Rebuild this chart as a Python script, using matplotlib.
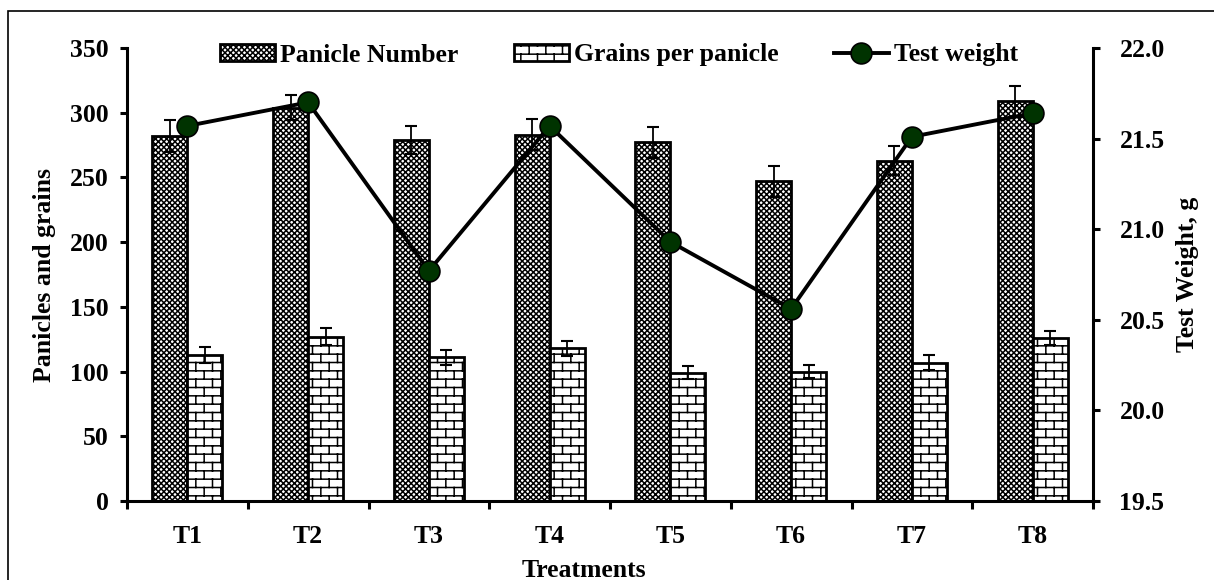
import numpy as np
import matplotlib
matplotlib.use("Agg")
import matplotlib.pyplot as plt
import matplotlib.hatch as mhatch
from matplotlib.path import Path
from matplotlib.patches import Rectangle
from matplotlib.ticker import FormatStrFormatter

# ---------------- data ----------------
treatments = ["T1", "T2", "T3", "T4", "T5", "T6", "T7", "T8"]
panicle_number = [282, 304, 279, 283, 277, 247, 263, 309]
panicle_err = [12, 10, 11, 12, 12, 12, 11, 12]
grains_per_panicle = [113, 127, 111, 118, 99, 100, 107, 126]
grains_err = [6, 6.5, 6, 6, 5, 5, 6, 5.5]
test_weight = [21.57, 21.70, 20.77, 21.57, 20.93, 20.56, 21.51, 21.64]

left_ticks = [0, 50, 100, 150, 200, 250, 300, 350]
right_ticks = [19.5, 20.0, 20.5, 21.0, 21.5, 22.0]

# ---------------- brick hatch ----------------
BRICK = "|-|-"
_orig_get_path = mhatch.get_path


def _brick_path(rows=12, cols=6):
    verts, codes = [], []
    for i in range(rows):
        y0 = (i + 0.5) / rows
        y1 = (i + 1.5) / rows
        verts += [(0.0, y0), (1.0, y0)]
        codes += [Path.MOVETO, Path.LINETO]
        off = 0.5 if i % 2 else 0.0
        for j in range(cols):
            xv = (j + 0.25 + off) / cols
            verts += [(xv, y0), (xv, min(y1, 1.0))]
            codes += [Path.MOVETO, Path.LINETO]
        if y1 > 1.0:
            for j in range(cols):
                xv = (j + 0.25 + off) / cols
                verts += [(xv, 0.0), (xv, y1 - 1.0)]
                codes += [Path.MOVETO, Path.LINETO]
    return Path(np.array(verts), codes)


def _get_path(hatchpattern, density=6):
    if hatchpattern == BRICK:
        return _brick_path()
    return _orig_get_path(hatchpattern, density)


mhatch.get_path = _get_path

# ---------------- style ----------------
plt.rcParams["font.family"] = ["Liberation Serif", "DejaVu Serif"]
plt.rcParams["font.weight"] = "bold"
plt.rcParams["hatch.linewidth"] = 1.1
FS = 18.5

fig = plt.figure(figsize=(12.14, 5.80), dpi=100)
ax = fig.add_axes([127 / 1214, 1 - 501 / 580, (1093 - 127) / 1214, (501 - 48) / 580])
ax2 = ax.twinx()

x = np.arange(len(treatments))
w = 0.29

b1 = ax.bar(x - w / 2, panicle_number, w, color="white", edgecolor="black",
            linewidth=2, hatch="xxxxxx", label="Panicle Number", zorder=2)
b2 = ax.bar(x + w / 2, grains_per_panicle, w, color="white", edgecolor="black",
            linewidth=2, hatch=BRICK, label="Grains per panicle", zorder=2)
ax.errorbar(x - w / 2, panicle_number, yerr=panicle_err, fmt="none",
            ecolor="black", elinewidth=1.3, capsize=4, capthick=1.5, zorder=3)
ax.errorbar(x + w / 2, grains_per_panicle, yerr=grains_err, fmt="none",
            ecolor="black", elinewidth=1.3, capsize=4, capthick=1.5, zorder=3)

ln, = ax2.plot(x, test_weight, color="black", linewidth=2.8, marker="o",
               markersize=15, markerfacecolor="#003300", markeredgecolor="black",
               markeredgewidth=1.2, label="Test weight", zorder=4)

ax.set_xlim(-0.5, len(treatments) - 0.5)
ax.set_ylim(0, 350)
ax2.set_ylim(19.5, 22.0)

ax.set_yticks(left_ticks)
ax2.set_yticks(right_ticks)
ax2.yaxis.set_major_formatter(FormatStrFormatter("%.1f"))

ax.set_xticks(x)
ax.set_xticklabels(treatments)
ax.set_xticks(np.arange(len(treatments) + 1) - 0.5, minor=True)
ax.tick_params(axis="x", which="major", length=0, pad=17, labelsize=FS)
ax.tick_params(axis="x", which="minor", length=6, width=2.2, direction="out")
ax.tick_params(axis="y", length=5, width=2.2, direction="out", pad=8, labelsize=FS)
ax2.tick_params(axis="y", length=5, width=2.2, direction="out", pad=14, labelsize=FS)

for a in (ax, ax2):
    a.spines["top"].set_visible(False)
    for s in ("left", "right", "bottom"):
        a.spines[s].set_linewidth(2.2)
ax.spines["right"].set_visible(False)
ax2.spines["left"].set_visible(False)
ax2.spines["bottom"].set_visible(False)

ax.set_xlabel("Treatments", fontsize=FS, fontweight="bold")
ax.xaxis.set_label_coords((584 - 127) / 966, -0.128)
ax.set_ylabel("Panicles and grains", fontsize=FS, fontweight="bold")
ax.yaxis.set_label_coords(-0.074, 0.5)
ax2.set_ylabel("Test Weight, g", fontsize=FS, fontweight="bold")
ax2.yaxis.set_label_coords(1.086, 0.5)

leg = ax2.legend(handles=[b1, b2, ln], loc="center",
                 bbox_to_anchor=(619 / 1214, 1 - 55 / 580),
                 bbox_transform=fig.transFigure, ncol=3, frameon=False,
                 fontsize=FS, handlelength=2.15, handleheight=0.62,
                 handletextpad=0.2, columnspacing=2.15, borderaxespad=0,
                 borderpad=0)

fig.patches.append(Rectangle((8 / 1214, -0.1), 1.2, (1 - 11 / 580) + 0.1,
                             transform=fig.transFigure, fill=False,
                             edgecolor="black", linewidth=1.2, zorder=0))

fig.savefig("out.png", dpi=100)
